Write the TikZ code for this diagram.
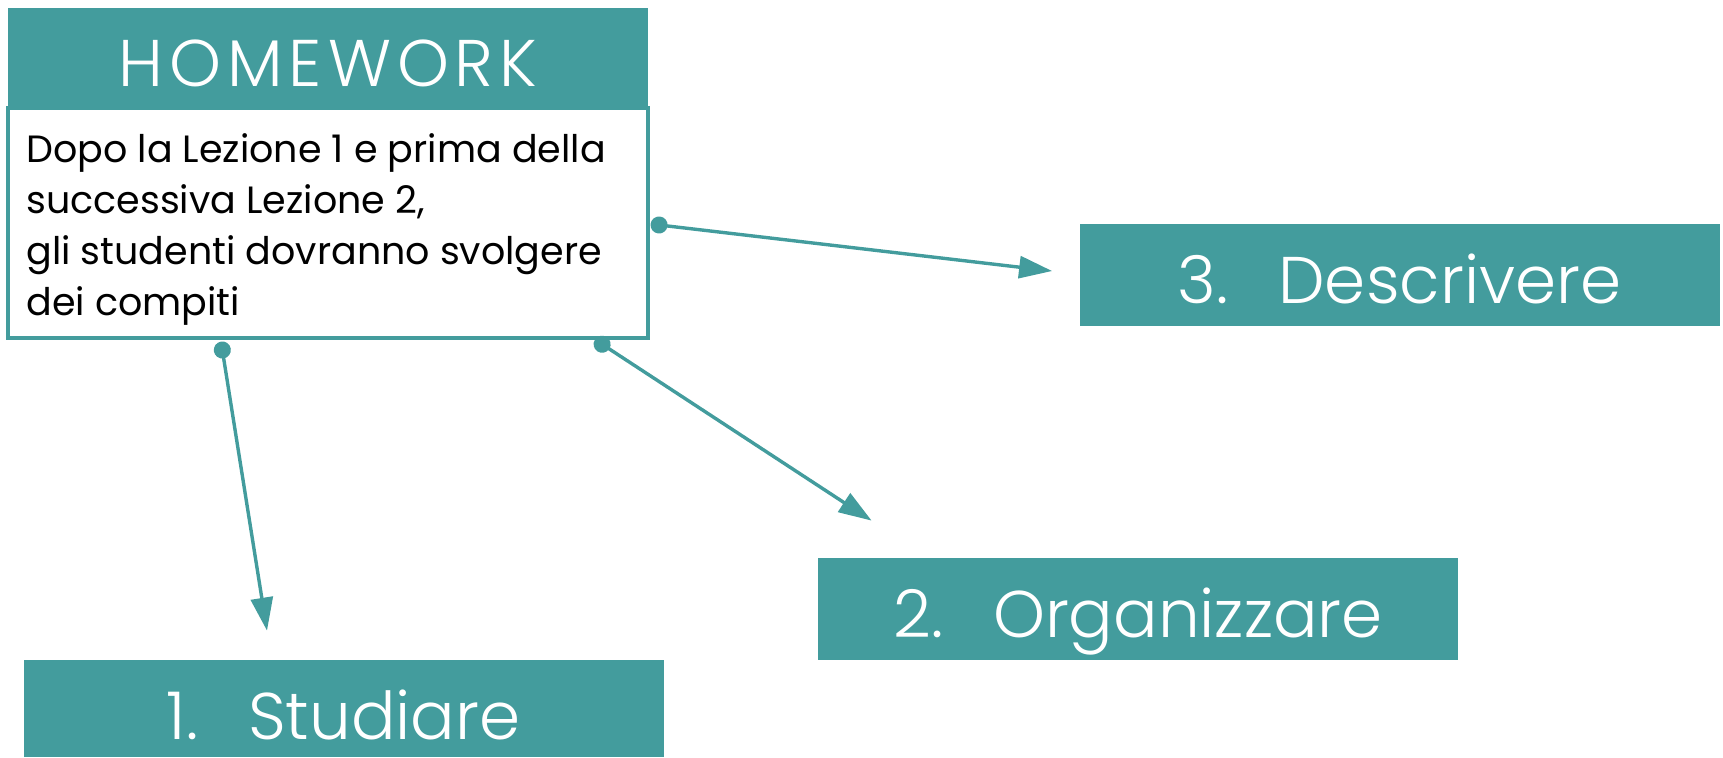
\documentclass[tikz,border=0pt]{standalone}
\usepackage{fontspec}
\setmainfont{Poppins}
\newfontfamily\lightfont{Poppins Light}
\usetikzlibrary{arrows.meta}
\definecolor{teal1}{HTML}{439C9D}
\tikzset{
  tbox/.style={fill=teal1, minimum width=320pt, minimum height=51pt, inner sep=0pt,
    text=white, text height=28pt, text depth=0pt, font=\lightfont\fontsize{33}{38}\selectfont},
  conn/.style={draw=teal1, line width=1.7pt,
    {Circle[length=8.5pt,width=8.5pt]}-{Triangle[length=16.5pt,width=11pt]}},
}
\begin{document}
\begin{tikzpicture}[x=0.5pt,y=-0.5pt]
\useasboundingbox (0,0) rectangle (1723,757);
% header
\node[tbox, minimum height=50pt] (hw) at (328,58) {\addfontfeature{LetterSpace=9}HOMEWORK\hspace{-3pt}};
\node[draw=teal1, line width=1.6pt, minimum width=320pt, minimum height=115pt, inner sep=0pt] (box) at (328,223) {};
\node[anchor=base west, align=left, inner sep=0pt, font=\fontsize{19}{25.5}\selectfont] (txt) at (26,315)
  {Dopo la Lezione 1 e prima della\\successiva Lezione 2,\\gli studenti dovranno svolgere\\dei compiti};
% target boxes
\node[tbox] (d3) at (1399.5,275) {3.\hspace{25pt}Descrivere};
\node[tbox] (o2) at (1138,609) {2.\hspace{25pt}Organizzare};
\node[tbox, minimum height=48.5pt, text height=30.5pt] (s1) at (343.5,708.5) {1.\hspace{25pt}Studiare};
% connectors
\draw[conn] ([shift={(1,1)}]box.east) -- ([shift={(-27,-4)}]d3.west);
\draw[conn] ([shift={(267,0)}]box.south) -- ([shift={(54,-37)}]o2.north west);
\draw[conn] ([shift={(-107,2)}]box.south) -- ([shift={(-76.5,-29)}]s1.north);
\end{tikzpicture}
\end{document}
